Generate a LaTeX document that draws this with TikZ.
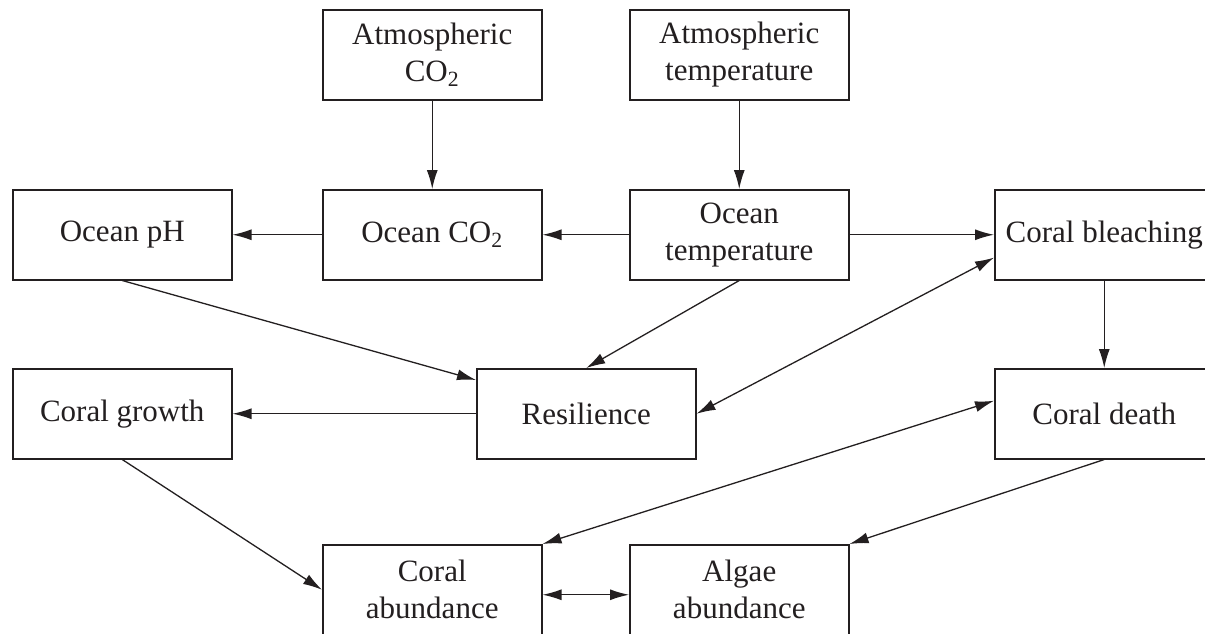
\documentclass[tikz,border=0pt]{standalone}
\usepackage{fontspec}
\setmainfont{Liberation Serif}
\usetikzlibrary{arrows.meta,calc}
\definecolor{ink}{HTML}{231F20}
\tikzset{
  box/.style={draw=ink, line width=0.75pt, rectangle, anchor=north west,
    minimum width=109.5pt, minimum height=45pt, inner sep=2pt,
    align=center, text=ink, font=\fontsize{15.5pt}{18.5pt}\selectfont},
  arr/.style={draw=ink, line width=0.65pt, -{Latex[length=9.5pt,width=5.5pt]}},
  darr/.style={draw=ink, line width=0.65pt, {Latex[length=9.5pt,width=5.5pt]}-{Latex[length=9.5pt,width=5.5pt]}}
}
\begin{document}
\begin{tikzpicture}[x=0.5pt,y=-0.5pt]
\useasboundingbox (0,0) rectangle (1205,633);
\clip (0,0) rectangle (1205,633);
\fill[white] (0,0) rectangle (1205,633);
\node[box] (atmco2) at (322,9) {Atmospheric\\CO\textsubscript{2}};
\node[box] (atmtemp) at (629,9) {Atmospheric\\temperature};
\node[box] (ph) at (12,189) {Ocean pH};
\node[box] (oco2) at (322,189) {Ocean CO\textsubscript{2}};
\node[box] (otemp) at (629,189) {Ocean\\temperature};
\node[box] (bleach) at (994,189) {Coral bleaching};
\node[box] (growth) at (12,368) {Coral growth};
\node[box] (res) at (476,368) {Resilience};
\node[box] (death) at (994,368) {Coral death};
\node[box] (cab) at (322,544) {Coral\\abundance};
\node[box] (alg) at (629,544) {Algae\\abundance};

\draw[arr] (atmco2) -- (oco2);
\draw[arr] (atmtemp) -- (otemp);
\draw[arr] (oco2) -- (ph);
\draw[arr] (otemp) -- (oco2);
\draw[arr] (otemp) -- (bleach);
\draw[arr] (ph.south) -- ([yshift=-6pt]res.north west);
\draw[arr] (otemp.south) -- (res.north);
\draw[darr] (res.east) -- ($(bleach.west)!0.5!(bleach.south west)$);
\draw[arr] (res) -- (growth);
\draw[arr] (bleach) -- (death);
\draw[arr] (growth.south) -- (cab.west);
\draw[darr] (cab.north east) -- ([yshift=6.5pt]death.west);
\draw[arr] (death.south) -- (alg.north east);
\draw[darr] ([yshift=-2.5pt]cab.east) -- ([yshift=-2.5pt]alg.west);
\end{tikzpicture}
\end{document}
